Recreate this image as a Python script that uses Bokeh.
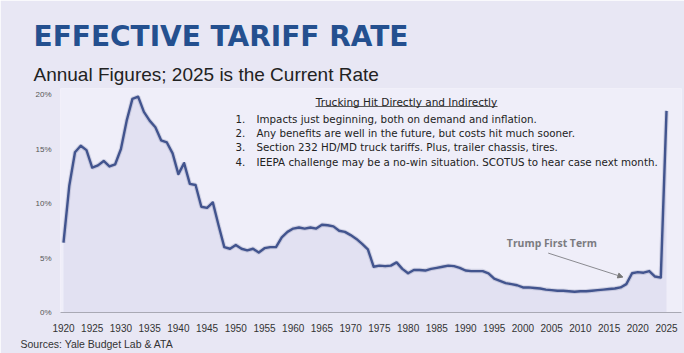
from bokeh.plotting import figure
from bokeh.models import Label, Arrow, NormalHead, FixedTicker, Range1d, Title
from bokeh.embed import file_html
from bokeh.resources import INLINE

# ---------------- data ----------------
years = list(range(1920, 2026))
rates = [
    6.4, 11.6, 14.7, 15.3, 14.9, 13.3, 13.5, 13.9, 13.4, 13.6,   # 1920-1929
    15.0, 17.6, 19.6, 19.8, 18.4, 17.6, 17.0, 15.8, 15.6, 14.6,  # 1930-1939
    12.7, 13.7, 11.8, 11.7, 9.7, 9.6, 10.1, 8.0, 6.0, 5.85,      # 1940-1949
    6.2, 5.85, 5.7, 5.85, 5.5, 5.9, 6.0, 6.0, 6.9, 7.4,          # 1950-1959
    7.7, 7.8, 7.7, 7.8, 7.7, 8.05, 8.0, 7.9, 7.5, 7.4,           # 1960-1969
    7.1, 6.75, 6.3, 5.8, 4.2, 4.3, 4.25, 4.3, 4.6, 4.0,          # 1970-1979
    3.6, 3.9, 3.9, 3.85, 4.0, 4.1, 4.2, 4.3, 4.25, 4.1,          # 1980-1989
    3.85, 3.8, 3.8, 3.8, 3.6, 3.1, 2.9, 2.7, 2.6, 2.5,           # 1990-1999
    2.3, 2.3, 2.25, 2.2, 2.1, 2.05, 2.0, 2.0, 1.95, 1.9,         # 2000-2009
    1.95, 1.95, 2.0, 2.05, 2.1, 2.15, 2.2, 2.3, 2.6, 3.6,        # 2010-2019
    3.7, 3.65, 3.8, 3.3, 3.2, 18.5,                              # 2020-2025
]
x_ticks = list(range(1920, 2026, 5))
y_ticks = [0, 5, 10, 15, 20]
y_tick_labels = {0: "0%", 5: "5%", 10: "10%", 15: "15%", 20: "20%"}

title_text = "EFFECTIVE TARIFF RATE"
subtitle_text = "Annual Figures; 2025 is the Current Rate"
box_title = "Trucking Hit Directly and Indirectly"
box_points = [
    "Impacts just beginning, both on demand and inflation.",
    "Any benefits are well in the future, but costs hit much sooner.",
    "Section 232 HD/MD truck tariffs. Plus, trailer chassis, tires.",
    "IEEPA challenge may be a no-win situation. SCOTUS to hear case next month.",
]
note_text = "Trump First Term"
note_year, note_rate = 1997.2, 6.4          # where the note sits
arrow_from = (2004.4, 5.45)
arrow_to = (2017.4, 3.25)
source_text = "Sources: Yale Budget Lab & ATA"

# ---------------- figure ----------------
FL, FT, FB = 60, 88, 312     # frame left / top / bottom in canvas px
PXY = 5.743                  # px per year
X0 = 1920 - 3 / PXY
X1 = X0 + 621 / PXY
PXV = 10.9                   # px per percentage point

p = figure(width=684, height=353, output_backend="svg", toolbar_location=None,
           title_location=None,
           x_range=Range1d(X0, X1), y_range=Range1d(0, (FB - FT) / PXV),
           min_border_left=FL, min_border_right=3, min_border_top=FT,
           min_border_bottom=353 - FB,
           background_fill_color="#efeef9", border_fill_color="#e8e7f4",
           outline_line_color=None)
p.grid.visible = False

p.varea(x=years, y1=0, y2=rates, fill_color="#dddcf0", fill_alpha=0.7)
p.line(years, rates, line_color="#28356a", line_width=4.5, line_alpha=0.15)
p.line(years, rates, line_color="#42548e", line_width=2.4, line_join="round")

xa = p.xaxis[0]
xa.ticker = FixedTicker(ticks=x_ticks)
xa.major_tick_line_color = None
xa.minor_tick_line_color = None
xa.axis_line_color = "#a9a9b4"
xa.major_label_standoff = 5
xa.major_label_text_font = "Liberation Sans"
xa.major_label_text_font_size = "10px"
xa.major_label_text_color = "#333333"

ya = p.yaxis[0]
ya.ticker = FixedTicker(ticks=y_ticks)
ya.major_label_overrides = y_tick_labels
ya.major_tick_line_color = None
ya.minor_tick_line_color = None
ya.axis_line_color = None
ya.major_label_standoff = 3
ya.major_label_text_font = "Liberation Sans"
ya.major_label_text_font_size = "8px"
ya.major_label_text_color = "#555555"

# titles (outside the frame) as Title layouts
p.add_layout(Title(text=subtitle_text, align="left", offset=-27, standoff=8,
                   text_font="Liberation Sans", text_font_style="normal",
                   text_font_size="19px", text_color="#222222"), "above")
p.add_layout(Title(text=title_text, align="left", offset=-27, standoff=9,
                   text_font="DejaVu Sans", text_font_style="bold",
                   text_font_size="28px", text_color="#24508f"), "above")
p.add_layout(Title(text=source_text, align="left", offset=-40, standoff=2,
                   text_font="Liberation Sans", text_font_style="normal",
                   text_font_size="10.5px", text_color="#333333"), "below")


def scr(label_x, label_y, **kw):
    """Label positioned in canvas px, converted to frame-relative screen units."""
    return Label(x=label_x - FL, y=FB - label_y, x_units="screen", y_units="screen",
                 text_baseline="alphabetic", **kw)


p.add_layout(scr(406, 101, text=box_title, text_align="center", text_font="DejaVu Sans",
                 text_font_size="10.5px", text_color="#222222"))
# underline of the box title
ux0 = X0 + (315 - FL) / PXY
ux1 = X0 + (497 - FL) / PXY
uy = (FB - 106) / PXV
p.segment(x0=[ux0], y0=[uy], x1=[ux1], y1=[uy], line_color="#333333", line_width=0.8)

for i, t in enumerate(box_points):
    by = 118 + i * 14.4
    p.add_layout(scr(235, by, text=f"{i + 1}.", text_font="DejaVu Sans",
                     text_font_size="10.3px", text_color="#222222"))
    p.add_layout(scr(256, by, text=t, text_font="DejaVu Sans",
                     text_font_size="10.3px", text_color="#222222"))

p.add_layout(Label(x=note_year, y=note_rate, text=note_text, text_font="Open Sans",
                   text_font_style="bold", text_font_size="10.4px", text_color="#7b7b80",
                   text_baseline="alphabetic"))
p.add_layout(Arrow(end=NormalHead(size=5, fill_color="#777777", line_color="#777777"),
                   x_start=arrow_from[0], y_start=arrow_from[1],
                   x_end=arrow_to[0], y_end=arrow_to[1],
                   line_color="#8a8a90", line_width=1))

open("out.html", "w").write(file_html(p, INLINE))
